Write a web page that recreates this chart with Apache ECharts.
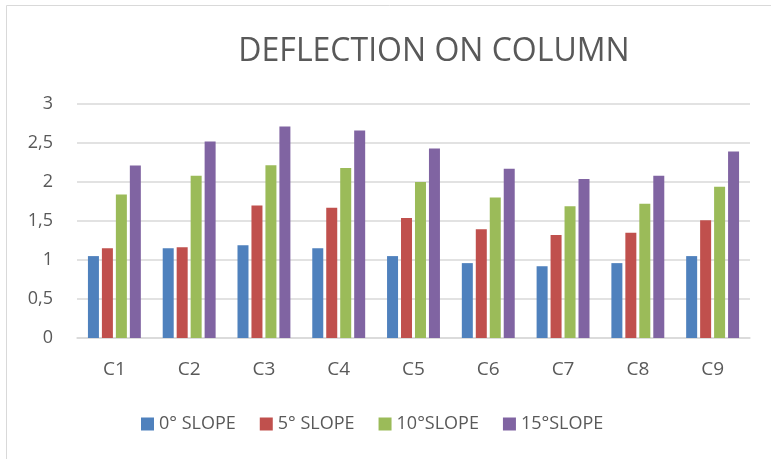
<!DOCTYPE html>
<html>
<head>
<meta charset="utf-8">
<script src="https://cdn.jsdelivr.net/npm/echarts@6/dist/echarts.min.js"></script>
<style>
  html, body { margin: 0; padding: 0; background: #fff; }
  #chart { width: 771px; height: 459px; }
</style>
</head>
<body>
<div id="chart"></div>
<script>
const categories = ['C1', 'C2', 'C3', 'C4', 'C5', 'C6', 'C7', 'C8', 'C9']
const seriesNames = ['0° SLOPE', '5° SLOPE', '10°SLOPE', '15°SLOPE']
const slope0 = [1.05, 1.15, 1.19, 1.15, 1.05, 0.96, 0.92, 0.96, 1.05]
const slope5 = [1.15, 1.165, 1.70, 1.67, 1.54, 1.395, 1.32, 1.35, 1.51]
const slope10 = [1.84, 2.08, 2.215, 2.18, 2.00, 1.80, 1.69, 1.72, 1.94]
const slope15 = [2.21, 2.52, 2.71, 2.66, 2.43, 2.17, 2.04, 2.08, 2.39]
const colors = ['#4F81BD', '#C0504D', '#9BBB59', '#8064A2']

const font = 'Open Sans'
const textColor = '#595959'

const chart = echarts.init(document.getElementById('chart'))
const allData = [slope0, slope5, slope10, slope15]

chart.setOption({
  animation: false,
  textStyle: { fontFamily: font },
  graphic: [
    {
      type: 'rect',
      shape: { x: 6.5, y: 5.5, width: 800, height: 500 },
      style: { fill: 'none', stroke: '#d9d9d9', lineWidth: 1 }
    }
  ],
  title: {
    text: 'DEFLECTION ON COLUMN',
    left: 429,
    textAlign: 'center',
    top: 31,
    textStyle: { fontFamily: font, fontSize: 32, fontWeight: 'normal', color: textColor }
  },
  legend: {
    left: 136,
    top: 410,
    itemWidth: 13,
    itemHeight: 13,
    itemGap: 24,
    icon: 'rect',
    textStyle: { fontFamily: font, fontSize: 18, color: textColor },
    data: seriesNames
  },
  grid: { left: 77, right: 21, top: 104, bottom: 121, containLabel: false },
  xAxis: {
    type: 'category',
    data: categories,
    axisLine: { show: true, lineStyle: { color: '#d9d9d9', width: 1.5 } },
    axisTick: { show: false },
    axisLabel: { color: textColor, fontSize: 19, margin: 22, fontFamily: font }
  },
  yAxis: {
    type: 'value',
    min: 0,
    max: 3,
    interval: 0.5,
    axisLine: { show: false },
    axisTick: { show: false },
    splitLine: { lineStyle: { color: '#d9d9d9', width: 1.5 } },
    axisLabel: {
      color: textColor,
      fontSize: 18,
      margin: 24,
      fontFamily: font,
      formatter: (v) => String(v).replace('.', ',')
    }
  },
  series: allData.map((data, i) => ({
    name: seriesNames[i],
    type: 'bar',
    data: data,
    barWidth: 11,
    barGap: '27%',
    itemStyle: { color: colors[i] }
  }))
})
</script>
</body>
</html>
